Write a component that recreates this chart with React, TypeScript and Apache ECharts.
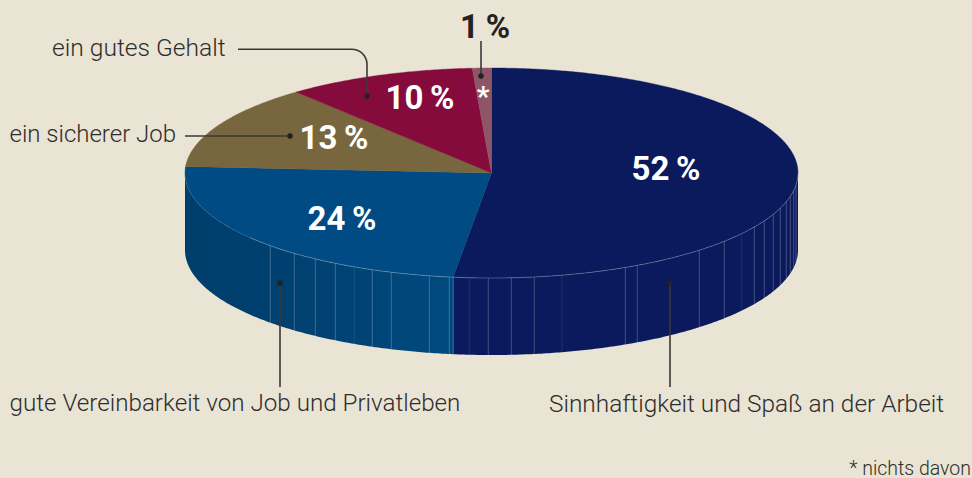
import React, { useEffect, useRef } from "react";
import * as echarts from "echarts";

const categories = ["Sinnhaftigkeit und Spaß an der Arbeit", "gute Vereinbarkeit von Job und Privatleben", "ein sicherer Job", "ein gutes Gehalt", "nichts davon"];
const shares = [52, 24, 13, 10, 1];
const percentTexts = ["52\u2009%", "24\u2009%", "13\u2009%", "10\u2009%", "1\u2009%"];
const footnote = "* nichts davon";

// visible panel seams on the side wall (horizontal page position)
const seamX = [270.3, 294.3, 315.3, 335.3, 372.3, 391.3, 429.3, 449.3, 453.3, 488.3, 511.3, 534.3, 625.3, 637.3, 699.3, 724.3, 754.3, 764.3, 773.3, 780.3, 786.3, 790.3, 793.7, 796];
const faintSeamX = [354.3, 469.3, 562, 741.7];

const topColors = ["#0a1a5c", "#004b84", "#78663e", "#850b3d", "#8e5566"];
const BG = "#e9e4d4";
const INK = "#2f2d2c";
const CX = 491.5, CY = 173, RX = 306.5, RY = 105, DEPTH = 77;
const TEXT_FONT = "Roboto";

const pt = (deg: number, dy = 0) => {
  const r = (deg * Math.PI) / 180;
  return [CX + RX * Math.sin(r), CY - RY * Math.cos(r) + dy];
};
const arc = (from: number, to: number, dy = 0) => {
  const out: number[][] = [];
  const n = Math.max(2, Math.ceil(Math.abs(to - from) * 2));
  for (let i = 0; i <= n; i++) out.push(pt(from + ((to - from) * i) / n, dy));
  return out;
};
const total = shares.reduce((a, b) => a + b, 0);
const startAngle = (i: number) => (shares.slice(0, i).reduce((a, b) => a + b, 0) / total) * 360;

function renderSide(params: any, api: any) {
  const i = params.dataIndex;
  const a0 = startAngle(i);
  const a1 = a0 + (api.value(0) / total) * 360;
  const from = Math.max(a0, 90), to = Math.min(a1, 270);
  if (to <= from) return { type: "group", children: [] };
  const fill = i === 1
    ? new echarts.graphic.LinearGradient(0, 0, 1, 0, [
        { offset: 0, color: "#003e6c" },
        { offset: 0.55, color: "#004273" },
        { offset: 1, color: "#004a80" },
      ])
    : topColors[i];
  return {
    type: "polygon",
    shape: { points: [...arc(from, to), ...arc(to, from, DEPTH)] },
    style: { fill },
  };
}

function renderTop(params: any, api: any) {
  const i = params.dataIndex;
  const a0 = startAngle(i);
  const a1 = a0 + (api.value(0) / total) * 360;
  return {
    type: "polygon",
    shape: { points: [[CX, CY], ...arc(a0, a1)] },
    style: { fill: topColors[i], stroke: topColors[i], lineWidth: 0.4 },
  };
}

function seamRenderer(opacity: number) {
  return (_p: any, api: any) => {
    const x = api.value(0);
    const k = (x - CX) / RX;
    const y = CY + RY * Math.sqrt(Math.max(0, 1 - k * k));
    return {
      type: "line",
      shape: { x1: x, y1: y, x2: x, y2: y + DEPTH },
      style: { stroke: `rgba(235,235,240,${opacity})`, lineWidth: 0.8 },
    };
  };
}

const text = (t: string, x: number, y: number, size: number, fill = INK, weight: any = 300, align = "left") => ({
  type: "text",
  x,
  y,
  silent: true,
  z: 20,
  style: { text: t, fill, fontFamily: TEXT_FONT, fontSize: size, fontWeight: weight, textAlign: align, textVerticalAlign: "middle" },
});
const leader = (points: number[][], dot: number[]) => [
  { type: "polyline", z: 18, silent: true, shape: { points }, style: { stroke: "#3a3837", lineWidth: 1.6, fill: "none" } },
  { type: "circle", z: 19, silent: true, shape: { cx: dot[0], cy: dot[1], r: 2.8 }, style: { fill: "#232220" } },
];
const corner = () => {
  const out: number[][] = [[238, 49.3]];
  const n = 10;
  for (let i = 0; i <= n; i++) {
    const t = (i / n) * (Math.PI / 2);
    out.push([352 + 15 * Math.sin(t), 64.3 - 15 * Math.cos(t)]);
  }
  out.push([367, 96]);
  return out;
};

export default function App() {
  const ref = useRef<HTMLDivElement>(null);
  useEffect(() => {
    const chart = echarts.init(ref.current!, null, { renderer: "svg" });
    chart.setOption({
      animation: false,
      backgroundColor: BG,
      series: [
        { type: "custom", coordinateSystem: "none", silent: true, z: 1, data: shares, renderItem: renderSide },
        { type: "custom", coordinateSystem: "none", silent: true, z: 2, data: seamX, renderItem: seamRenderer(0.33) },
        { type: "custom", coordinateSystem: "none", silent: true, z: 2, data: faintSeamX, renderItem: seamRenderer(0.12) },
        { type: "custom", coordinateSystem: "none", silent: true, z: 3, data: shares, renderItem: renderTop },
      ],
      graphic: [
        { type: "polyline", z: 5, silent: true, shape: { points: arc(90, 232) }, style: { stroke: "rgba(235,235,240,0.36)", lineWidth: 0.8, fill: "none" } },
        { type: "polyline", z: 5, silent: true, shape: { points: arc(232, 268) }, style: { stroke: "rgba(235,235,240,0.12)", lineWidth: 0.8, fill: "none" } },
        ...leader(corner(), [367, 96]),
        ...leader([[185, 136], [290, 136]], [290, 136]),
        ...leader([[481, 41], [481, 76]], [481, 76]),
        ...leader([[280, 283], [280, 387]], [280, 283]),
        ...leader([[670, 283], [670, 387]], [670, 283]),
        text(categories[0], 549, 403, 24.4),
        text(categories[1], 9.5, 403, 24.2),
        text(categories[2], 9.5, 134, 24),
        text(categories[3], 52, 47.5, 24.6),
        text(footnote, 971, 468, 19.5, INK, 300, "right"),
        text(percentTexts[0], 666, 168, 33, "#fff", 700, "center"),
        text(percentTexts[1], 342, 218, 33, "#fff", 700, "center"),
        text(percentTexts[2], 334, 137, 33, "#fff", 700, "center"),
        text(percentTexts[3], 420, 97, 33, "#fff", 700, "center"),
        text(percentTexts[4], 485, 26, 33, "#232220", 700, "center"),
        text("*", 483, 96, 28, "#fff", 700, "center"),
      ],
    });
    return () => chart.dispose();
  }, []);
  return <div ref={ref} style={{ position: "fixed", left: 0, top: 0, width: 972, height: 478 }} />;
}
